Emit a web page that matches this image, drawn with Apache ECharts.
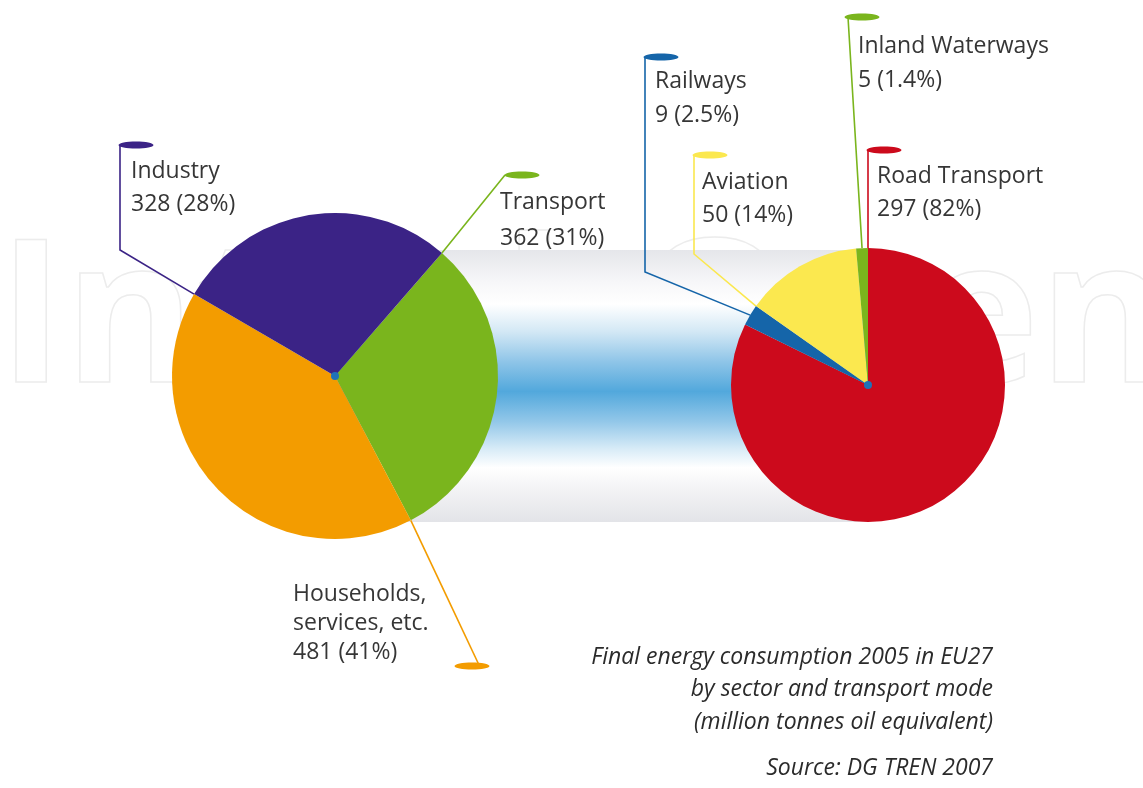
<!DOCTYPE html>
<html>
<head>
<meta charset="utf-8">
<title>Final energy consumption 2005 in EU27</title>
<script src="https://cdn.jsdelivr.net/npm/echarts@6.0.0/dist/echarts.min.js"></script>
<style>
  html, body { margin: 0; padding: 0; background: #fff; }
  #chart { width: 1143px; height: 788px; }
</style>
</head>
<body>
<div id="chart"></div>
<script>
// data
const sectorNames = ['Transport', 'Households,\nservices, etc.', 'Industry'];
const sectorValues = [362, 481, 328];
const sectorPct = ['31%', '41%', '28%'];
const sectorColors = ['#7ab51d', '#f39c00', '#3b2386'];

const modeNames = ['Road Transport', 'Railways', 'Aviation', 'Inland Waterways'];
const modeValues = [297, 9, 50, 5];
const modePct = ['82%', '2.5%', '14%', '1.4%'];
const modeColors = ['#cc0a1c', '#1565a9', '#fbe84f', '#7ab51d'];

const noteLines = [
  'Final energy consumption 2005 in EU27',
  'by sector and transport mode',
  '(million tonnes oil equivalent)'
];
const sourceLine = 'Source: DG TREN 2007';

// geometry of the two pies (start = clockwise degrees from 12 o'clock)
const leftPie = { cx: 335, cy: 376, r: 163, start: 41 };
const rightPie = { cx: 868, cy: 385, r: 137, start: 0 };

// label placement: x = text left, y = centre of first line, lh = line height,
// at = where on the slice the leader starts (0 start, 0.5 middle), elbow / end of leader, cap = ellipse centre
const sectorLabels = [
  { x: 500, y: 202, lh: 36, at: 0, elbow: null, end: [505, 175], cap: [522, 175] },
  { x: 293, y: 594, lh: 29, at: 0, elbow: null, end: [479, 665], cap: [472, 666] },
  { x: 131, y: 171, lh: 33.5, at: 0, elbow: [120, 250], end: [120, 145], cap: [136, 145] }
];
const modeLabels = [
  { x: 877, y: 176, lh: 33, at: 0, elbow: null, end: [868, 150], cap: [884, 150] },
  { x: 655, y: 81, lh: 34, at: 0.5, elbow: [645, 272], end: [645, 57], cap: [661, 57] },
  { x: 702, y: 182, lh: 33.5, at: 0, elbow: [694, 254], end: [694, 155], cap: [710, 155] },
  { x: 858, y: 46, lh: 34.5, at: 0.5, elbow: null, end: [848, 17], cap: [862, 17] }
];

const FONT = '"Open Sans", "Noto Sans", sans-serif';

// point on the rim where a slice's leader line starts
function rimPoint(pie, values, idx, at) {
  const total = values.reduce((a, b) => a + b, 0);
  let before = 0;
  for (let i = 0; i < idx; i++) before += values[i];
  const deg = pie.start + (before + values[idx] * at) / total * 360;
  const a = deg * Math.PI / 180;
  return [pie.cx + pie.r * Math.sin(a), pie.cy - pie.r * Math.cos(a)];
}

function makeLayout(pie, values, labels) {
  return function (params) {
    const L = labels[params.dataIndex];
    const p0 = rimPoint(pie, values, params.dataIndex, L.at);
    const mid = L.elbow || [(p0[0] + L.end[0]) / 2, (p0[1] + L.end[1]) / 2];
    return {
      x: L.x,
      y: L.y - L.lh / 2,
      align: 'left',
      verticalAlign: 'top',
      labelLinePoints: [p0, mid, L.end]
    };
  };
}

function pieSeries(pie, names, values, pct, colors, labels) {
  return {
    type: 'pie',
    center: [pie.cx, pie.cy],
    radius: [0, pie.r],
    startAngle: 90 - pie.start,
    clockwise: true,
    avoidLabelOverlap: false,
    silent: true,
    label: {
      show: true,
      position: 'outside',
      color: '#363636',
      fontFamily: FONT,
      fontSize: 23,
      formatter: (p) => p.name + '\n' + p.value + ' (' + pct[p.dataIndex] + ')'
    },
    labelLine: { show: true, smooth: false, lineStyle: { width: 1.6 } },
    labelLayout: makeLayout(pie, values, labels),
    emphasis: { disabled: true },
    data: names.map((n, i) => ({
      name: n,
      value: values[i],
      itemStyle: { color: colors[i] },
      label: { lineHeight: labels[i].lh }
    }))
  };
}

function caps(labels, colors) {
  return labels.map((L, i) => ({
    type: 'ellipse',
    z: 10,
    shape: { cx: L.cap[0], cy: L.cap[1], rx: 17.5, ry: 3.6 },
    style: { fill: colors[i] }
  }));
}

const chart = echarts.init(document.getElementById('chart'), null, { renderer: 'canvas' });

const noteY = [657, 689, 722];
const noteStyle = { font: 'italic 23px ' + FONT, fill: '#2b2b2b', textAlign: 'right', textVerticalAlign: 'middle' };
const graphic = [
  // faint publisher watermark
  {
    type: 'text', z: -10, x: -2, y: 425,
    style: {
      text: 'IntechOpen', font: 'bold 200px ' + FONT,
      fill: 'none', stroke: '#ececec', lineWidth: 1.5, textVerticalAlign: 'bottom'
    }
  },
  // shaded band joining the two pies
  {
    type: 'rect', z: -5,
    shape: { x: leftPie.cx, y: 250, width: rightPie.cx - leftPie.cx, height: 272 },
    style: {
      fill: new echarts.graphic.LinearGradient(0, 0, 0, 1, [
        { offset: 0, color: '#e5e6ea' },
        { offset: 0.12, color: '#f7f7f9' },
        { offset: 0.2, color: '#ffffff' },
        { offset: 0.3, color: '#d3e8f5' },
        { offset: 0.41, color: '#8fc5e8' },
        { offset: 0.52, color: '#52a8dc' },
        { offset: 0.63, color: '#92c7e9' },
        { offset: 0.73, color: '#d7ebf7' },
        { offset: 0.8, color: '#ffffff' },
        { offset: 0.88, color: '#f3f3f5' },
        { offset: 1, color: '#e3e4e8' }
      ])
    }
  },
  { type: 'circle', z: 10, shape: { cx: leftPie.cx, cy: leftPie.cy, r: 4 }, style: { fill: '#1f72b8' } },
  { type: 'circle', z: 10, shape: { cx: rightPie.cx, cy: rightPie.cy, r: 4 }, style: { fill: '#1f72b8' } }
]
  .concat(caps(sectorLabels, sectorColors))
  .concat(caps(modeLabels, modeColors))
  .concat(noteLines.map((t, i) => ({
    type: 'text', z: 10, x: 993, y: noteY[i],
    style: Object.assign({ text: t }, noteStyle)
  })))
  .concat([{
    type: 'text', z: 10, x: 993, y: 768,
    style: Object.assign({ text: sourceLine }, noteStyle)
  }]);

chart.setOption({
  backgroundColor: '#ffffff',
  animation: false,
  graphic: graphic,
  series: [
    pieSeries(leftPie, sectorNames, sectorValues, sectorPct, sectorColors, sectorLabels),
    pieSeries(rightPie, modeNames, modeValues, modePct, modeColors, modeLabels)
  ]
});
</script>
</body>
</html>
